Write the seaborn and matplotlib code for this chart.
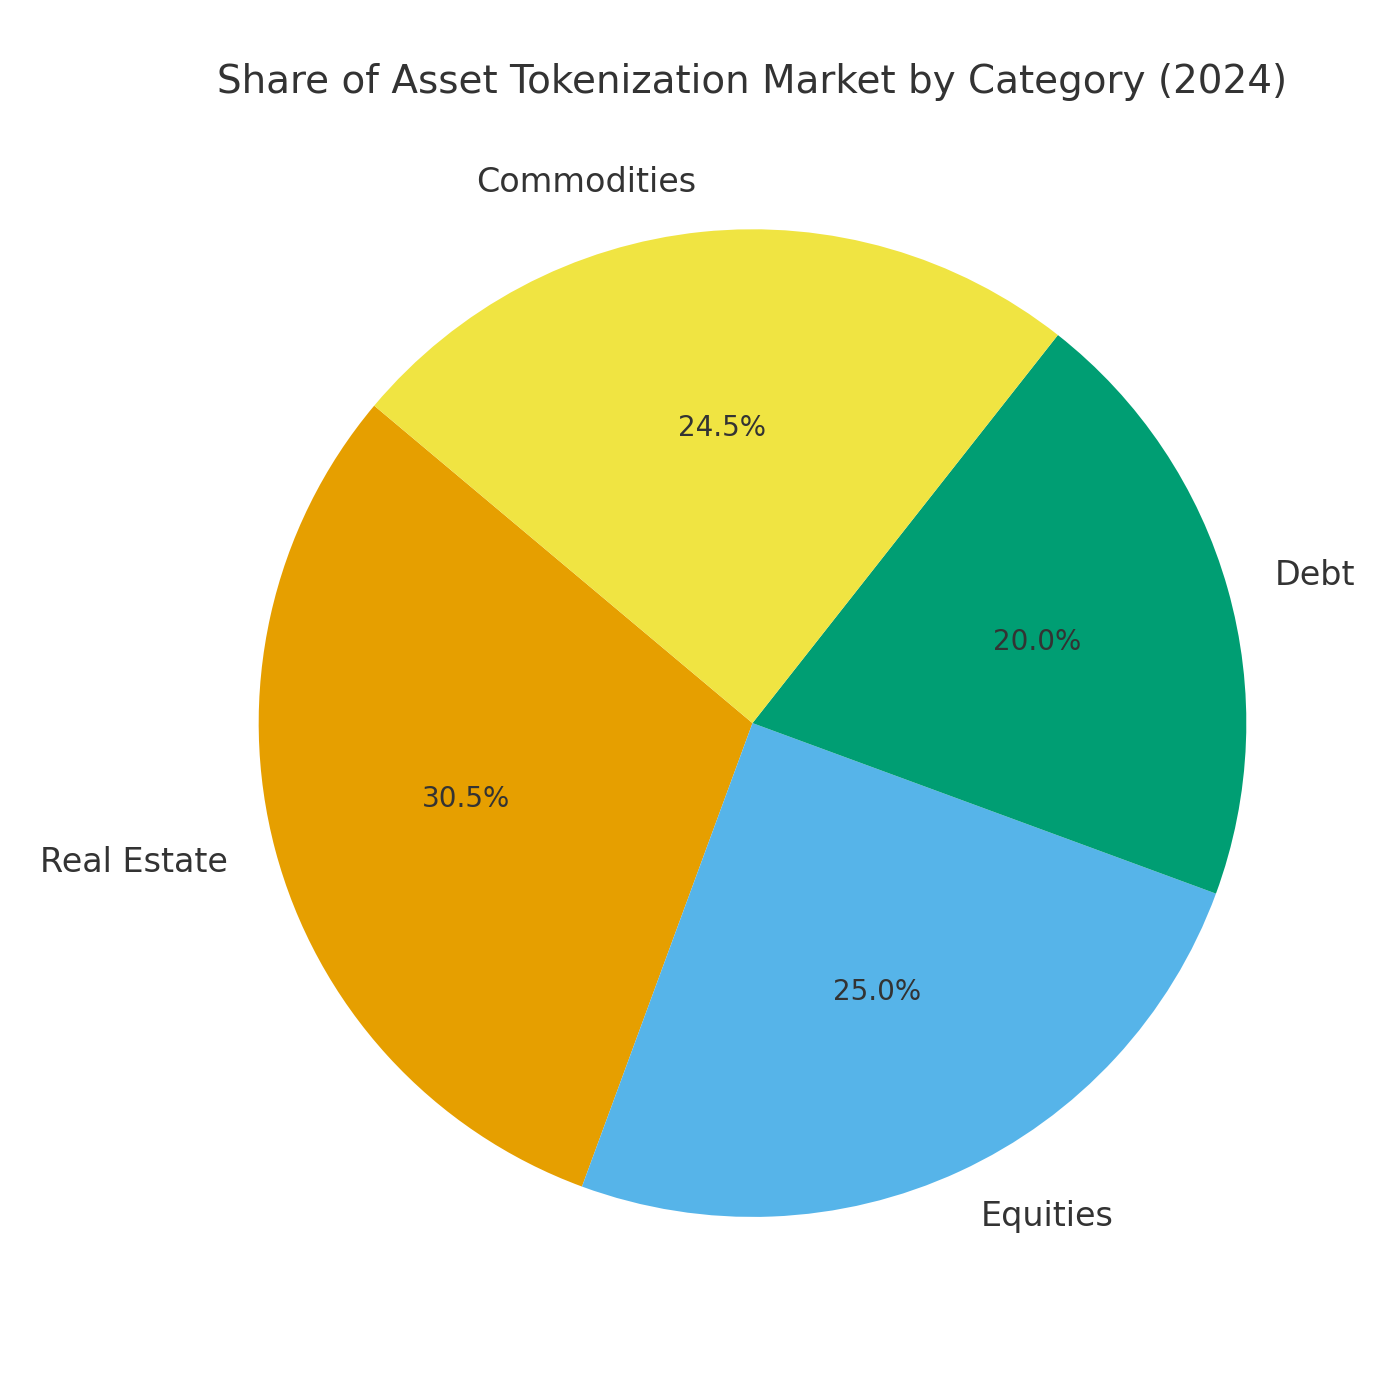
import matplotlib.pyplot as plt
import seaborn as sns

categories = ['Real Estate', 'Equities', 'Debt', 'Commodities']
shares = [30.5, 25.0, 20.0, 24.5]
colors = ['#E69F00', '#56B4E9', '#009E73', '#F0E442']

sns.set_theme(style='white')
plt.rcParams['font.family'] = ['DejaVu Sans']
plt.rcParams['text.color'] = '#333333'

fig = plt.figure(figsize=(7, 7), dpi=200)
ax = fig.add_axes([0.1495, 0.045, 0.776, 0.877])
wedges, texts, autotexts = ax.pie(shares, labels=categories, colors=colors,
                                  autopct='%1.1f%%', startangle=140,
                                  wedgeprops={'linewidth': 0},
                                  textprops={'fontsize': 12, 'color': '#333333'})
for t in autotexts:
    t.set_fontsize(10)
ax.set_title('Share of Asset Tokenization Market by Category (2024)',
             fontsize=14, color='#333333')
ax.axis('equal')
plt.savefig('out.png')
